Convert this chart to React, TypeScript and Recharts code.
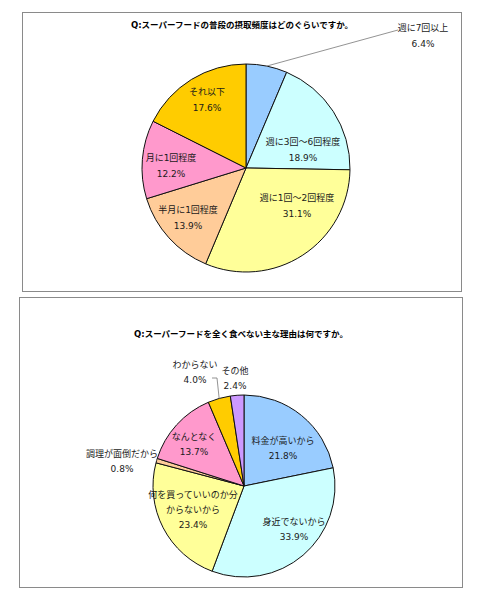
import { PieChart, Pie, Cell } from "recharts";

// Q1: how often superfood is eaten
const freqNames = ["週に7回以上", "週に3回～6回程度", "週に1回～2回程度", "半月に1回程度", "月に1回程度", "それ以下"];
const freqValues = [6.4, 18.9, 31.1, 13.9, 12.2, 17.6];
const freqColors = ["#99CCFF", "#CCFFFF", "#FFFF99", "#FFCC99", "#FF99CC", "#FFCC00"];

// Q2: reasons for not eating it
const reasonNames = [
  "料金が高いから",
  "身近でないから",
  "何を買っていいのか分\nからないから",
  "調理が面倒だから",
  "なんとなく",
  "わからない",
  "その他",
];
const reasonValues = [21.8, 33.9, 23.4, 0.8, 13.7, 4.0, 2.4];
const reasonColors = ["#99CCFF", "#CCFFFF", "#FFFF99", "#FFCC99", "#FF99CC", "#FFCC00", "#CC99FF"];

// label block centres, relative to the pie centre (px)
const freqLabelPos = [[177, -132], [57, -18], [51, 38], [-58, 50], [-75, -2], [-39, -68]];
const freqLeaders: Record<number, number[][]> = { 0: [[152, -138]] };
const reasonLabelPos = [[39, -38], [50, 43], [-51, 24], [-122, -25], [-50, -42], [-49, -114], [-9, -108]];
const reasonLeaders: Record<number, number[][]> = { 5: [[-27, -108], [-32, -108]] };

const FONT = "'DejaVu Sans', 'Noto Sans CJK JP', sans-serif";
const RADIAN = Math.PI / 180;

function makeLabel(
  names: string[],
  values: number[],
  pos: number[][],
  leaders: Record<number, number[][]>,
  gap: number
) {
  // eslint-disable-next-line @typescript-eslint/no-explicit-any
  return (props: any) => {
    const { cx, cy, midAngle, outerRadius, index } = props;
    const lines = [...names[index].split("\n"), `${values[index].toFixed(1)}%`];
    const [dx, dy] = pos[index];
    const top = cy + dy - ((lines.length - 1) * gap) / 2;
    const leader = leaders[index];
    let pts = "";
    if (leader) {
      const sx = cx + outerRadius * Math.cos(-midAngle * RADIAN);
      const sy = cy + outerRadius * Math.sin(-midAngle * RADIAN);
      pts = [[sx, sy], ...leader.map(([lx, ly]) => [cx + lx, cy + ly])].map((p) => p.join(",")).join(" ");
    }
    return (
      <g>
        {leader && <polyline points={pts} fill="none" stroke="#777" strokeWidth={0.8} />}
        {lines.map((t, i) => (
          <text
            key={i}
            x={cx + dx}
            y={top + i * gap}
            textAnchor="middle"
            dominantBaseline="central"
            fontSize={9}
            fontFamily={FONT}
            fill="#1a1a1a"
          >
            {t}
          </text>
        ))}
      </g>
    );
  };
}

const titleStyle: React.CSSProperties = {
  position: "absolute",
  left: 0,
  width: "100%",
  textAlign: "center",
  fontFamily: FONT,
  fontWeight: "bold",
  fontSize: 8.5,
  color: "#000",
  lineHeight: "12px",
};

export default function App() {
  const freqData = freqNames.map((name, i) => ({ name, value: freqValues[i] }));
  const reasonData = reasonNames.map((name, i) => ({ name, value: reasonValues[i] }));

  return (
    <div style={{ position: "absolute", left: 0, top: 0, width: 484, height: 605, background: "#fff" }}>
      <div
        style={{
          position: "absolute",
          left: 22,
          top: 12,
          width: 438,
          height: 278,
          border: "1px solid #8a8a8a",
        }}
      >
        <div style={{ ...titleStyle, top: 6 }}>Q:スーパーフードの普段の摂取頻度はどのぐらいですか。</div>
        <PieChart width={438} height={278} style={{ position: "absolute", left: 0, top: 0 }}>
          <Pie
            data={freqData}
            dataKey="value"
            cx={218}
            cy={150}
            outerRadius={104}
            startAngle={90}
            endAngle={-270}
            stroke="#111"
            strokeWidth={1}
            labelLine={false}
            label={makeLabel(freqNames, freqValues, freqLabelPos, freqLeaders, 15.5)}
            isAnimationActive={false}
          >
            {freqData.map((d, i) => (
              <Cell key={d.name} fill={freqColors[i]} />
            ))}
          </Pie>
        </PieChart>
      </div>

      <div
        style={{
          position: "absolute",
          left: 19,
          top: 297,
          width: 442,
          height: 289,
          border: "1px solid #8a8a8a",
        }}
      >
        <div style={{ ...titleStyle, top: 30 }}>Q:スーパーフードを全く食べない主な理由は何ですか。</div>
        <PieChart width={442} height={289} style={{ position: "absolute", left: 0, top: 0 }}>
          <Pie
            data={reasonData}
            dataKey="value"
            cx={219}
            cy={183}
            outerRadius={91}
            startAngle={90}
            endAngle={-270}
            stroke="#111"
            strokeWidth={1}
            labelLine={false}
            label={makeLabel(reasonNames, reasonValues, reasonLabelPos, reasonLeaders, 15)}
            isAnimationActive={false}
          >
            {reasonData.map((d, i) => (
              <Cell key={d.name} fill={reasonColors[i]} />
            ))}
          </Pie>
        </PieChart>
      </div>
    </div>
  );
}
